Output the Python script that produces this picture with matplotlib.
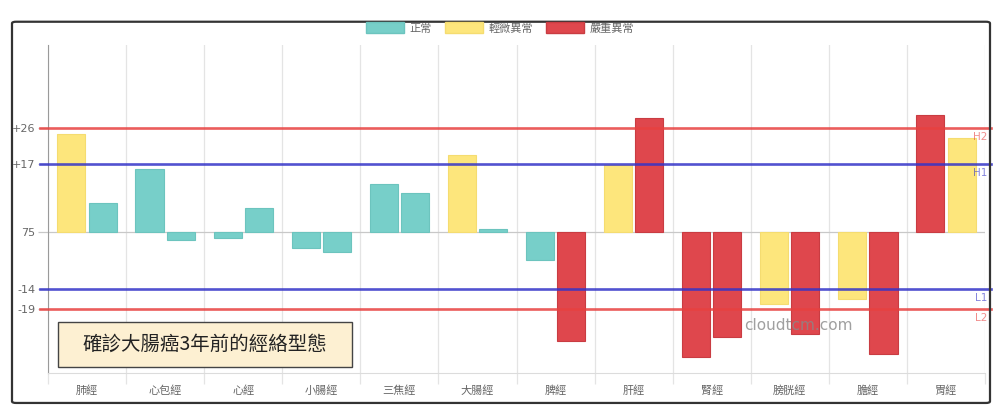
import matplotlib
matplotlib.use('Agg')
import matplotlib.pyplot as plt
from matplotlib.patches import Patch, FancyBboxPatch, Rectangle

plt.rcParams['font.family'] = ['Noto Sans CJK TC', 'DejaVu Sans']

# Meridians and their two readings (deviation from the 75 baseline)
categories = ['肺經', '心包經', '心經', '小腸經', '三焦經', '大腸經',
              '脾經', '肝經', '腎經', '膀胱經', '膽經', '胃經']
first_vals = [24.3, 15.8, -1.5, -3.8, 12.0, 19.3, -6.8, 16.6, -30.9, -17.8, -16.6, 29.1]
second_vals = [7.2, -2.0, 6.0, -5.0, 9.8, 0.8, -26.9, 28.5, -25.9, -25.3, -30.3, 23.3]
first_status = ['輕微異常', '正常', '正常', '正常', '正常', '輕微異常',
                '正常', '輕微異常', '嚴重異常', '輕微異常', '輕微異常', '嚴重異常']
second_status = ['正常', '正常', '正常', '正常', '正常', '正常',
                 '嚴重異常', '嚴重異常', '嚴重異常', '嚴重異常', '嚴重異常', '輕微異常']

status_names = ['正常', '輕微異常', '嚴重異常']
status_colors = {'正常': '#77cfc9', '輕微異常': '#fde67c', '嚴重異常': '#df474d'}
status_edges = {'正常': '#6cc4be', '輕微異常': '#f5dc70', '嚴重異常': '#c93c42'}

# reference lines
ref_values = [26, 17, -14, -19]
ref_names = ['H2', 'H1', 'L1', 'L2']
ref_colors = ['#e8413f', '#3434c8', '#3434c8', '#e8413f']
ytick_vals = [26, 17, 0, -14, -19]
ytick_labels = ['+26', '+17', '75', '-14', '-19']

fig = plt.figure(figsize=(10, 4.18), dpi=100)
ax = fig.add_axes([0.048, 0.1077, 0.937, 0.7847])

x = list(range(len(categories)))
w = 0.36
ax.bar([i - 0.2 for i in x], first_vals, width=w,
       color=[status_colors[s] for s in first_status],
       edgecolor=[status_edges[s] for s in first_status], linewidth=0.8, zorder=3)
ax.bar([i + 0.2 for i in x], second_vals, width=w,
       color=[status_colors[s] for s in second_status],
       edgecolor=[status_edges[s] for s in second_status], linewidth=0.8, zorder=3)

ax.axhline(0, color='#c8c8c8', lw=0.9, zorder=2)
for v, name, c in zip(ref_values, ref_names, ref_colors):
    ax.axhline(v, xmin=-0.009, xmax=1.006, color=c, lw=1.9, alpha=0.85,
               clip_on=False, zorder=4)
    ax.text(1.003, v - 1.0, name, transform=ax.get_yaxis_transform(),
            ha='right', va='top', fontsize=7.5, color=c, alpha=0.6,
            family='DejaVu Sans', zorder=5)

ax.set_xlim(-0.5, 11.5)
ax.set_ylim(-34.9, 46.5)

ax.set_xticks(x)
ax.set_xticklabels(categories, fontsize=8, color='#666666')
ax.set_xticks([i - 0.5 for i in range(len(categories) + 1)], minor=True)
ax.tick_params(axis='x', which='major', length=0, pad=9)
ax.tick_params(axis='x', which='minor', length=8, color='#e4e4e4', width=0.9)
ax.grid(True, axis='x', which='minor', color='#e4e4e4', lw=0.9, zorder=0)

ax.set_yticks(ytick_vals)
ax.set_yticklabels(ytick_labels, fontsize=8, color='#666666', family='DejaVu Sans')
ax.tick_params(axis='y', length=7, color='#c8c8c8', width=0.9, pad=2)

for s in ['top', 'right']:
    ax.spines[s].set_visible(False)
ax.spines['left'].set_color('#9a9a9a')
ax.spines['bottom'].set_color('#dcdcdc')

handles = [Patch(facecolor=status_colors[s], edgecolor=status_edges[s], label=s)
           for s in status_names]
fig.legend(handles=handles, loc='center', bbox_to_anchor=(0.5, 0.933), ncol=3,
           frameon=False, fontsize=8, labelcolor='#666666', handlelength=3.4,
           handleheight=1.1, handletextpad=0.5, columnspacing=1.2)

# caption box
fig.patches.append(Rectangle((0.058, (418 - 367) / 418), 0.294, 45 / 418,
                             transform=fig.transFigure, facecolor='#fdf0d2',
                             edgecolor='#444444', lw=1.0, zorder=6))
fig.text(0.205, (418 - 344.5) / 418, '確診大腸癌3年前的經絡型態', ha='center',
         va='center', fontsize=14, color='#222222', zorder=7)

# watermark
fig.text(0.798, (418 - 325) / 418, 'cloudtcm.com', ha='center', va='center',
         fontsize=11, color='#888888', alpha=0.8, family='DejaVu Sans', zorder=8)

# outer frame
fig.patches.append(FancyBboxPatch((0.012, 0.036), 0.978, 0.912,
                                  boxstyle='round,pad=0,rounding_size=0.004',
                                  transform=fig.transFigure, fill=False,
                                  edgecolor='#333333', lw=1.6))

fig.savefig('out.png', dpi=100)
